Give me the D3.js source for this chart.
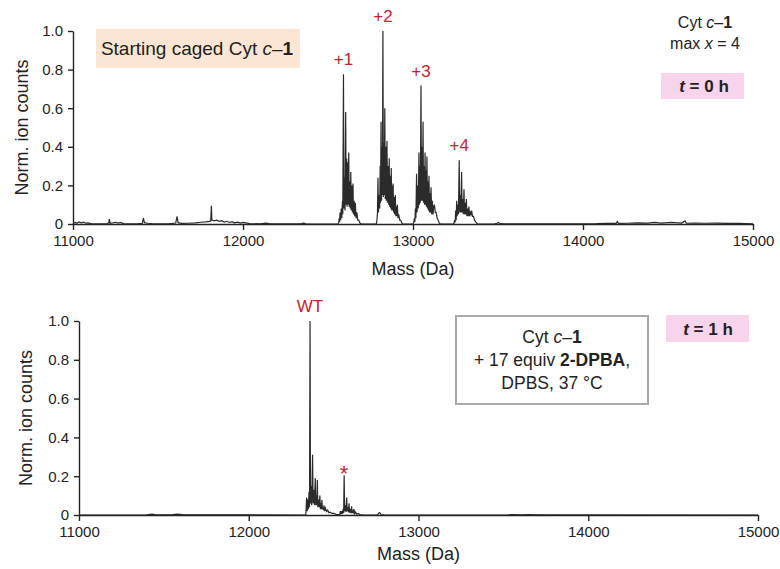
<!DOCTYPE html>
<html>
<head>
<meta charset="utf-8">
<script src="https://cdn.jsdelivr.net/npm/d3@7/dist/d3.min.js"></script>
<style>
  body { margin: 0; background: #fff; }
  svg { display: block; font-family: "Liberation Sans", Arial, sans-serif; }
  .axis path, .axis line { stroke: #222; stroke-width: 1.4; }
  .axis text { font-size: 15px; fill: #222; }
</style>
</head>
<body>
<svg id="chart" width="780" height="569"></svg>
<script>
// Deconvoluted mass spectra of Cyt c–1 (mass in Da, normalised ion counts)
const massTicks = [11000, 12000, 13000, 14000, 15000];
const countTicks = [0, 0.2, 0.4, 0.6, 0.8, 1.0];

// t = 0 h : caged protein, +1 … +4 cage adducts
const t0Baseline = [
  [11000,0.003],[11012,0.008],[11022,0.004],[11035,0.011],[11048,0.006],[11062,0.010],[11075,0.004],[11090,0.006],
  [11110,0.001],[11160,0.001],[11200,0.002],[11210,0.006],[11214,0.025],[11218,0.004],[11235,0.006],[11250,0.009],
  [11265,0.005],[11280,0.008],[11300,0.001],[11380,0.001],[11408,0.004],[11414,0.030],[11420,0.007],[11440,0.004],
  [11470,0.001],[11560,0.001],[11604,0.005],[11612,0.040],[11618,0.007],[11640,0.003],[11680,0.004],[11720,0.006],
  [11750,0.009],[11780,0.011],[11800,0.014],[11810,0.016],[11814,0.095],[11817,0.020],[11830,0.016],[11845,0.020],
  [11860,0.014],[11875,0.017],[11890,0.010],[11905,0.014],[11920,0.008],[11935,0.012],[11950,0.006],[11970,0.010],
  [11985,0.005],[12000,0.008],[12040,0.002],[12100,0.001],[12135,0.004],[12160,0.001],[12340,0.001],[12355,0.004],
  [12370,0.001],[12556,0]
];
const t0Plus1 = [
  [12558,0],[12563,0.006],[12566,0.030],[12568,0.010],[12571,0.060],[12574,0.020],[12578,0.080],[12581,0.030],
  [12585,0.120],[12587,0.050],[12591,0.776],[12594,0.080],[12598,0.240],[12600,0.070],[12604,0.580],[12607,0.100],
  [12610,0.340],[12612,0.090],[12616,0.320],[12618,0.100],[12622,0.370],[12625,0.090],[12628,0.220],[12631,0.080],
  [12634,0.270],[12637,0.070],[12641,0.200],[12644,0.060],[12647,0.210],[12650,0.050],[12654,0.120],[12657,0.040],
  [12661,0.110],[12665,0.030],[12670,0.060],[12675,0.020],[12681,0.020],[12688,0.005],[12695,0]
];
const t0Plus2 = [
  [12784,0],[12788,0.020],[12791,0.060],[12794,0.240],[12797,0.060],[12801,0.150],[12804,0.080],[12807,0.300],
  [12809,0.110],[12812,0.530],[12815,0.120],[12819,0.400],[12820,0.150],[12823,1.000],[12826,0.140],[12829,0.420],
  [12831,0.150],[12834,0.600],[12837,0.130],[12840,0.400],[12843,0.120],[12847,0.430],[12850,0.110],[12854,0.300],
  [12857,0.100],[12860,0.340],[12863,0.090],[12866,0.250],[12869,0.080],[12872,0.290],[12875,0.070],[12878,0.200],
  [12880,0.070],[12883,0.210],[12886,0.060],[12889,0.140],[12892,0.050],[12896,0.150],[12899,0.040],[12902,0.090],
  [12905,0.040],[12908,0.100],[12912,0.030],[12916,0.050],[12922,0.020],[12928,0.020],[12934,0.005],[12940,0]
];
const t0Plus3 = [
  [13000,0],[13005,0.010],[13008,0.030],[13011,0.010],[13014,0.080],[13017,0.030],[13021,0.260],[13024,0.060],
  [13028,0.200],[13031,0.080],[13035,0.370],[13038,0.100],[13041,0.300],[13043,0.110],[13047,0.717],[13050,0.120],
  [13053,0.400],[13056,0.120],[13059,0.530],[13062,0.110],[13065,0.300],[13068,0.100],[13071,0.370],[13074,0.100],
  [13077,0.280],[13079,0.090],[13082,0.350],[13085,0.080],[13088,0.220],[13091,0.070],[13094,0.250],[13097,0.060],
  [13100,0.160],[13103,0.060],[13106,0.190],[13110,0.050],[13114,0.120],[13118,0.050],[13122,0.090],[13126,0.100],
  [13131,0.060],[13136,0.060],[13142,0.030],[13148,0.020],[13154,0.005],[13160,0]
];
const t0Plus4 = [
  [13240,0],[13245,0.020],[13248,0.008],[13251,0.070],[13254,0.020],[13257,0.120],[13260,0.040],[13264,0.100],
  [13267,0.050],[13272,0.330],[13275,0.060],[13279,0.150],[13282,0.060],[13286,0.270],[13289,0.060],[13293,0.130],
  [13296,0.050],[13300,0.180],[13303,0.050],[13307,0.110],[13310,0.050],[13314,0.130],[13317,0.040],[13321,0.080],
  [13325,0.040],[13329,0.090],[13333,0.040],[13337,0.060],[13341,0.050],[13345,0.070],[13350,0.040],[13356,0.040],
  [13362,0.020],[13370,0.010],[13380,0]
];
const t0Tail = [
  [13380,0],[13480,0.001],[13496,0.004],[13502,0.009],[13508,0.004],[13530,0.001],[13800,0.001],[14080,0.002],
  [14140,0.004],[14195,0.003],[14202,0.013],[14208,0.003],[14260,0.004],[14320,0.006],[14380,0.005],[14420,0.008],
  [14460,0.005],[14520,0.008],[14580,0.005],[14600,0.016],[14608,0.004],[14660,0.005],[14720,0.004],[14780,0.005],
  [14850,0.003],[14920,0.004],[15000,0.001]
];

// t = 1 h : after 2-DPBA treatment, WT protein and a minor species (*)
const t1Baseline = [
  [11000,0],[11400,0.001],[11430,0.004],[11450,0.001],[11550,0.002],[11580,0.004],[11620,0.001],[12334,0]
];
const t1WT = [
  [12336,0],[12339,0.050],[12341,0.090],[12344,0.020],[12348,0.080],[12351,0.030],[12355,0.120],[12358,0.040],
  [12361,1.000],[12364,0.060],[12368,0.150],[12371,0.050],[12376,0.310],[12379,0.060],[12384,0.130],[12387,0.050],
  [12392,0.190],[12395,0.050],[12399,0.100],[12401,0.050],[12404,0.180],[12407,0.040],[12412,0.080],[12415,0.040],
  [12419,0.100],[12422,0.030],[12426,0.060],[12428,0.030],[12431,0.077],[12434,0.030],[12438,0.040],[12440,0.025],
  [12443,0.050],[12447,0.020],[12452,0.035],[12458,0.018],[12465,0.025],[12472,0.012],[12480,0.015],[12490,0.008],
  [12500,0.008],[12515,0.003],[12530,0.002]
];
const t1Star = [
  [12536,0.003],[12540,0.020],[12543,0.005],[12548,0.020],[12551,0.006],[12556,0.030],[12559,0.010],[12562,0.205],
  [12565,0.020],[12570,0.050],[12573,0.015],[12577,0.090],[12580,0.020],[12585,0.040],[12587,0.015],[12591,0.060],
  [12594,0.012],[12599,0.030],[12602,0.010],[12606,0.045],[12609,0.010],[12614,0.020],[12617,0.008],[12620,0.030],
  [12624,0.006],[12630,0.015],[12636,0.004],[12644,0.008],[12655,0.002],[12675,0]
];
const t1Tail = [
  [12675,0],[12760,0.001],[12766,0.010],[12772,0.012],[12780,0.002],[12800,0],[13520,0],[13550,0.002],
  [13600,0.001],[13650,0.002],[13700,0.001],[15000,0]
];

const t0Spectrum = [].concat(t0Baseline, t0Plus1, t0Plus2, t0Plus3, t0Plus4, t0Tail);
const t1Spectrum = [].concat(t1Baseline, t1WT, t1Star, t1Tail);

// Peak annotations [label, mass, counts]
const t0Labels = [["+1", 12591, 0.776], ["+2", 12823, 1.0], ["+3", 13047, 0.717], ["+4", 13272, 0.33]];
const t1Labels = [["WT", 12361, 1.0], ["*", 12562, 0.205]];

const RED = "#c8202f";
const svg = d3.select("#chart");

function panel(cfg) {
  const x = d3.scaleLinear().domain([11000, 15000]).range([cfg.left, cfg.right]);
  const y = d3.scaleLinear().domain([0, 1]).range([cfg.bottom, cfg.top]);
  const g = svg.append("g");

  g.append("path")
    .datum(cfg.data)
    .attr("fill", "none")
    .attr("stroke", "#2b2b2b")
    .attr("stroke-width", 1.2)
    .attr("d", d3.line().x(d => x(d[0])).y(d => y(d[1])));

  g.append("g").attr("class", "axis")
    .attr("transform", `translate(0,${cfg.bottom})`)
    .call(d3.axisBottom(x).tickValues(massTicks).tickSize(6).tickSizeOuter(0).tickPadding(5).tickFormat(d3.format("d")));

  g.append("g").attr("class", "axis")
    .attr("transform", `translate(${cfg.left},0)`)
    .call(d3.axisLeft(y).tickValues(countTicks).tickSize(5).tickSizeOuter(0).tickPadding(5)
      .tickFormat(d => d === 0 ? "0" : d3.format(".1f")(d)));

  g.append("text")
    .attr("x", (cfg.left + cfg.right) / 2).attr("y", cfg.bottom + cfg.titleGap)
    .attr("text-anchor", "middle").attr("font-size", 18).attr("fill", "#222")
    .text("Mass (Da)");

  g.append("text")
    .attr("transform", `translate(${cfg.left - cfg.ylabelGap},${(cfg.top + cfg.bottom) / 2}) rotate(-90)`)
    .attr("text-anchor", "middle").attr("font-size", 18).attr("fill", "#222")
    .text("Norm. ion counts");

  cfg.labels.forEach(([t, m, v]) => {
    const star = t === "*";
    g.append("text")
      .attr("x", x(m)).attr("y", y(v) - (star ? -6 : 9))
      .attr("text-anchor", "middle").attr("font-size", star ? 22 : 17).attr("fill", RED)
      .text(t);
  });
  return g;
}

// mixed-style text helper: parts = [[text, style]]
function rich(g, xPos, yPos, parts, size, anchor) {
  const t = g.append("text").attr("x", xPos).attr("y", yPos)
    .attr("text-anchor", anchor || "middle").attr("font-size", size).attr("fill", "#222");
  parts.forEach(([s, st]) => {
    const ts = t.append("tspan").text(s);
    if (st && st.includes("i")) ts.attr("font-style", "italic");
    if (st && st.includes("b")) ts.attr("font-weight", "bold");
  });
  return t;
}

// Upper panel (t = 0 h)
const panel0 = panel({ left: 73, right: 753, top: 31, bottom: 224, titleGap: 51, ylabelGap: 45,
  data: t0Spectrum, labels: t0Labels });
panel0.append("rect").attr("x", 96).attr("y", 29).attr("width", 204).attr("height", 39).attr("fill", "#fce6d3");
rich(panel0, 197, 55, [["Starting caged Cyt ", ""], ["c", "i"], ["–", ""], ["1", "b"]], 19);
rich(panel0, 705, 28, [["Cyt ", ""], ["c", "i"], ["–", ""], ["1", "b"]], 16);
rich(panel0, 705, 49, [["max ", ""], ["x", "i"], [" = 4", ""]], 16);
panel0.append("rect").attr("x", 661).attr("y", 73).attr("width", 83).attr("height", 26).attr("fill", "#f8d4ec");
rich(panel0, 704, 92, [["t", "bi"], [" = 0 h", "b"]], 17);

// Lower panel (t = 1 h)
const panel1 = panel({ left: 79, right: 758, top: 321, bottom: 515, titleGap: 45, ylabelGap: 47,
  data: t1Spectrum, labels: t1Labels });
panel1.append("rect").attr("x", 456).attr("y", 316).attr("width", 192).attr("height", 88)
  .attr("fill", "#fff").attr("stroke", "#aaa").attr("stroke-width", 2);
rich(panel1, 552, 343, [["Cyt ", ""], ["c", "i"], ["–", ""], ["1", "b"]], 17.5);
rich(panel1, 552, 366, [["+ 17 equiv ", ""], ["2-DPBA", "b"], [",", ""]], 17.5);
rich(panel1, 552, 389, [["DPBS, 37 °C", ""]], 17.5);
panel1.append("rect").attr("x", 666).attr("y", 315).attr("width", 83).attr("height", 27).attr("fill", "#f8d4ec");
rich(panel1, 708, 335, [["t", "bi"], [" = 1 h", "b"]], 17);
</script>
</body>
</html>
